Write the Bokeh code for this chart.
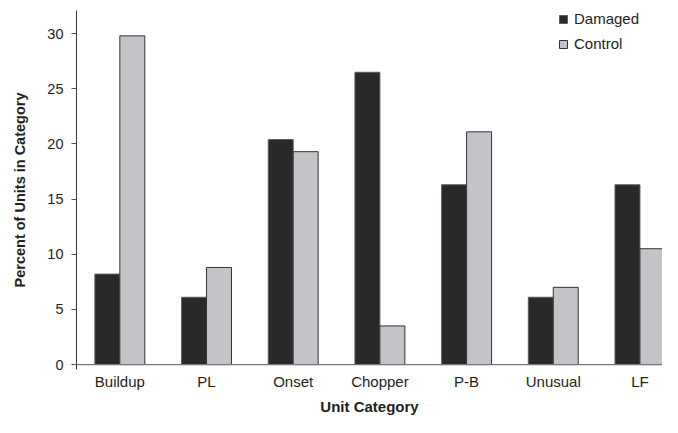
from bokeh.plotting import figure
from bokeh.models import Range1d, FixedTicker, Span, Legend, LegendItem, ColumnDataSource
from bokeh.embed import file_html
from bokeh.resources import INLINE

categories = ["Buildup", "PL", "Onset", "Chopper", "P-B", "Unusual", "LF"]
damaged = [8.2, 6.1, 20.4, 26.5, 16.3, 6.1, 16.3]
control = [29.8, 8.8, 19.3, 3.5, 21.1, 7.0, 10.5]
y_ticks = [0, 5, 10, 15, 20, 25, 30]

FONT = "Liberation Sans"
xs = list(range(len(categories)))

p = figure(width=662, height=417, output_backend="svg", toolbar_location=None,
           x_range=Range1d(-0.5, 6.26), y_range=Range1d(-0.45, 32.1),
           min_border_left=76, min_border_right=0, min_border_top=10, min_border_bottom=48)
p.outline_line_color = None
p.xgrid.grid_line_color = None
p.ygrid.grid_line_color = None
p.background_fill_color = "white"

src_d = ColumnDataSource(dict(x=[x - 0.144 for x in xs], top=damaged))
src_c = ColumnDataSource(dict(x=[x + 0.144 for x in xs], top=control))
rd = p.vbar(x="x", top="top", bottom=0, width=0.288, source=src_d,
            fill_color="#2a2829", line_color="#5e5e5e", line_width=1)
rc = p.vbar(x="x", top="top", bottom=0, width=0.288, source=src_c,
            fill_color="#c3c4c8", line_color="#333333", line_width=1)

p.add_layout(Span(location=0, dimension="width", line_color="#777777", line_width=1.2))

# y axis
ya = p.yaxis[0]
ya.ticker = FixedTicker(ticks=y_ticks)
ya.axis_line_color = "#333333"
ya.major_tick_line_color = "#555555"
ya.major_tick_out = 5
ya.major_tick_in = 0
ya.minor_tick_line_color = None
ya.major_label_text_font = FONT
ya.major_label_text_font_size = "14.5px"
ya.major_label_text_color = "#231f20"
ya.major_label_standoff = 8
ya.axis_label = "Percent of Units in Category"
ya.axis_label_text_font = FONT
ya.axis_label_text_font_style = "bold"
ya.axis_label_text_font_size = "14.5px"
ya.axis_label_text_color = "#231f20"
ya.axis_label_standoff = 16

# x axis
xa = p.xaxis[0]
xa.ticker = FixedTicker(ticks=xs)
xa.major_label_overrides = {i: c for i, c in enumerate(categories)}
xa.axis_line_color = None
xa.major_tick_line_color = None
xa.major_tick_out = 0
xa.major_tick_in = 0
xa.minor_tick_line_color = None
xa.minor_tick_out = 0
xa.major_label_text_font = FONT
xa.major_label_text_font_size = "15px"
xa.major_label_text_color = "#231f20"
xa.major_label_standoff = 3
xa.axis_label = "Unit Category"
xa.axis_label_text_font = FONT
xa.axis_label_text_font_style = "bold"
xa.axis_label_text_font_size = "15px"
xa.axis_label_text_color = "#231f20"
xa.axis_label_standoff = 5

legend = Legend(items=[LegendItem(label="Damaged", renderers=[rd]),
                       LegendItem(label="Control", renderers=[rc])],
                location=(482, 317))
legend.glyph_width = 10
legend.glyph_height = 10
legend.label_height = 16
legend.label_standoff = 6
legend.spacing = 8
legend.padding = 0
legend.margin = 0
legend.border_line_color = None
legend.background_fill_alpha = 0
legend.label_text_font = FONT
legend.label_text_font_size = "15px"
legend.label_text_color = "#231f20"
p.add_layout(legend)

open("out.html", "w").write(file_html(p, INLINE))
